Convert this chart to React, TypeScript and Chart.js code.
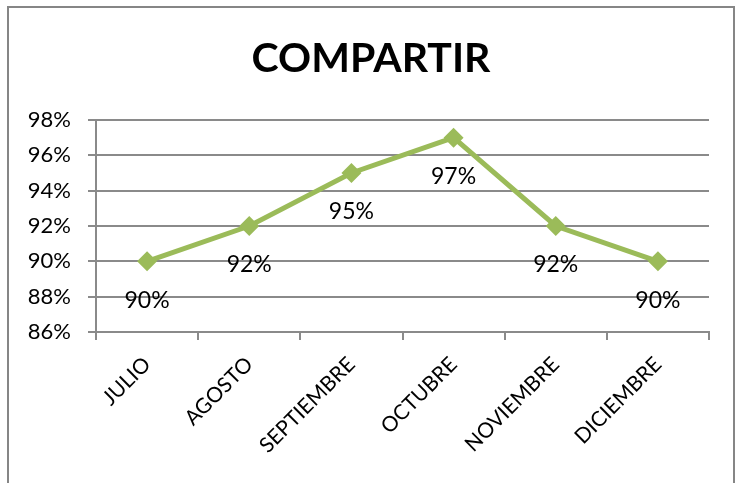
import React, { useEffect, useRef } from "react";
import { Chart, registerables } from "chart.js";

Chart.register(...registerables);

const categories = ["JULIO", "AGOSTO", "SEPTIEMBRE", "OCTUBRE", "NOVIEMBRE", "DICIEMBRE"];
const values = [90, 92, 95, 97, 92, 90];
const yTicks = [86, 88, 90, 92, 94, 96, 98];
const title = "COMPARTIR";

const FONT = "Lato, 'Open Sans', sans-serif";
const GREEN = "#9BBB59";
const GRID = "#8a8a8a";

const dataLabels = {
  id: "dataLabels",
  afterDatasetsDraw(chart: any) {
    const ctx = chart.ctx;
    const meta = chart.getDatasetMeta(0);
    ctx.save();
    ctx.font = `23px ${FONT}`;
    ctx.fillStyle = "#000";
    ctx.textAlign = "center";
    ctx.textBaseline = "middle";
    meta.data.forEach((pt: any, i: number) => {
      ctx.fillText(values[i] + "%", pt.x, pt.y + 39);
    });
    ctx.restore();
  },
};

const titlePlugin = {
  id: "centerTitle",
  afterDraw(chart: any) {
    const ctx = chart.ctx;
    ctx.save();
    ctx.font = `bold 41px ${FONT}`;
    ctx.fillStyle = "#000";
    ctx.textAlign = "center";
    ctx.textBaseline = "middle";
    ctx.fillText(title, chart.width / 2, 59);
    ctx.restore();
  },
};

export default function App() {
  const ref = useRef<HTMLCanvasElement>(null);
  useEffect(() => {
    if (!ref.current) return;
    const chart = new Chart(ref.current, {
      type: "line",
      data: {
        labels: categories,
        datasets: [
          {
            data: values,
            borderColor: GREEN,
            backgroundColor: GREEN,
            borderWidth: 5,
            pointStyle: "rectRot",
            pointRadius: 10,
            pointBackgroundColor: GREEN,
            pointBorderColor: GREEN,
            pointBorderWidth: 0,
            tension: 0,
          },
        ],
      },
      options: {
        responsive: false,
        animation: false,
        layout: { padding: { left: 0, right: 33, top: 120, bottom: 0 } },
        plugins: {
          legend: { display: false },
          tooltip: { enabled: false },
          title: { display: false },
        },
        scales: {
          x: {
            offset: true,
            grid: {
              offset: true,
              drawOnChartArea: false,
              drawTicks: true,
              tickLength: 8,
              color: GRID,
              lineWidth: 2,
            },
            border: { color: GRID, width: 2 },
            ticks: {
              color: "#000",
              font: { family: FONT, size: 21 },
              autoSkip: false,
              minRotation: 45,
              maxRotation: 45,
              padding: 12,
            },
            afterFit(scale: any) {
              scale.height = 151;
            },
          },
          y: {
            min: 86,
            max: 98,
            afterBuildTicks(scale: any) {
              scale.ticks = yTicks.map((v) => ({ value: v }));
            },
            grid: { color: GRID, lineWidth: 2, tickLength: 8 },
            border: { color: GRID, width: 2 },
            ticks: {
              color: "#000",
              font: { family: FONT, size: 22 },
              padding: 17,
              callback: (v: any) => v + "%",
            },
            afterFit(scale: any) {
              scale.width = 96;
            },
          },
        },
      },
      plugins: [dataLabels, titlePlugin],
    });
    return () => chart.destroy();
  }, []);
  return (
    <div style={{ position: "fixed", left: 0, top: 0, width: 742, height: 483, background: "#fff", overflow: "hidden" }}>
      <div
        style={{
          position: "absolute",
          left: 7,
          top: 6,
          width: 728,
          height: 520,
          border: "2px solid #868686",
          boxSizing: "border-box",
        }}
      />
      <canvas ref={ref} width={742} height={483} style={{ position: "absolute", left: 0, top: 0 }} />
    </div>
  );
}
